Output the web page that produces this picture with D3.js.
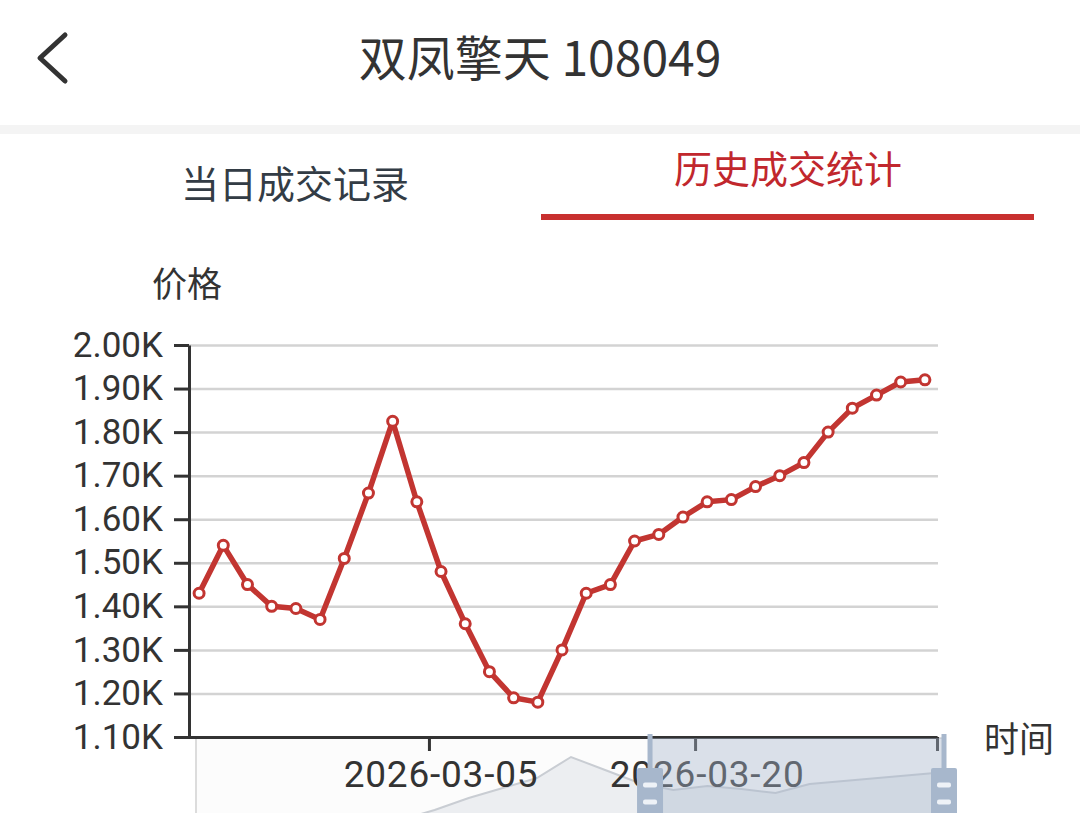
<!DOCTYPE html>
<html>
<head>
<meta charset="utf-8">
<script src="https://d3js.org/d3.v7.min.js"></script>
<style>
  html, body { margin: 0; padding: 0; background: #fff; }
  svg { display: block; font-family: "Noto Sans CJK SC", "Noto Sans", sans-serif; }
</style>
</head>
<body>
<svg id="svg" width="1080" height="813"></svg>
<script>
// 每个点的成交价
var prices = [1430, 1540, 1450, 1400, 1395, 1370, 1510, 1660, 1825, 1640, 1480,
              1360, 1250, 1190, 1180, 1300, 1430, 1450, 1550, 1565, 1605, 1640,
              1645, 1675, 1700, 1730, 1800, 1855, 1885, 1915, 1920];
var yTicks = [1100, 1200, 1300, 1400, 1500, 1600, 1700, 1800, 1900, 2000];
var xLabelIndex = [10, 21];
var xLabels = ['2026-03-05', '2026-03-20'];
// dataZoom 缩略图里的阴影曲线
var shadowPrices = [1100, 1118, 1145, 1190, 1244, 1298, 1370, 1460, 1568, 1658, 1748, 1937,
                    1820, 1703, 1640, 1676, 1649, 1613, 1694, 1721, 1748, 1775, 1802];
var zoomStart = 60.7, zoomEnd = 100;

var svg = d3.select("#svg");
var red = "#c23531";
var numFont = "Roboto, 'Noto Sans', sans-serif";

// header
svg.append("path")
    .attr("d", "M65,35 L40,58 L65,81")
    .attr("fill", "none").attr("stroke", "#333")
    .attr("stroke-width", 5).attr("stroke-linecap", "round").attr("stroke-linejoin", "round");
svg.append("text")
    .attr("x", 540).attr("y", 55)
    .attr("text-anchor", "middle").attr("dominant-baseline", "central")
    .attr("font-size", 48).attr("fill", "#333")
    .text("双凤擎天 108049");
svg.append("rect").attr("x", 0).attr("y", 125).attr("width", 1080).attr("height", 9).attr("fill", "#f4f4f4");

// tabs
svg.append("text")
    .attr("x", 295).attr("y", 181)
    .attr("text-anchor", "middle").attr("dominant-baseline", "central")
    .attr("font-size", 38).attr("fill", "#333c45")
    .text("当日成交记录");
svg.append("text")
    .attr("x", 788).attr("y", 166)
    .attr("text-anchor", "middle").attr("dominant-baseline", "central")
    .attr("font-size", 38).attr("fill", "#c1272d")
    .text("历史成交统计");
svg.append("rect").attr("x", 541).attr("y", 214).attr("width", 493).attr("height", 6).attr("fill", "#c8302f");

// scales
var plot = {left: 189, right: 938, top: 345, bottom: 737};
var xScale = d3.scaleBand()
    .domain(d3.range(prices.length))
    .range([plot.left - 2, plot.right - 1]);
var xEdge = d3.scaleLinear()
    .domain([0, prices.length])
    .range([plot.left - 2, plot.right - 1]);
var yScale = d3.scaleLinear()
    .domain([1100, 2000])
    .range([plot.bottom, plot.top]);
var bw = xScale.bandwidth();

// grid
var grid = svg.append("g")
    .attr("transform", "translate(" + plot.left + ",0)")
    .call(d3.axisLeft(yScale).tickValues(yTicks).tickSize(-(plot.right - plot.left)).tickFormat(""));
grid.select(".domain").remove();
grid.selectAll("line").attr("stroke", "#d3d3d3").attr("stroke-width", 2.5);

// slider shadow (behind labels)
var sx = d3.scaleLinear().domain([0, shadowPrices.length - 1]).range([196, 946]);
var sy = d3.scaleLinear().domain([1100, 2000]).range([850, 750]);
var slider = svg.append("g");
slider.append("rect").attr("x", 196).attr("y", 738).attr("width", 748).attr("height", 100)
    .attr("fill", "#fcfcfc").attr("stroke", "#dcdcdc").attr("stroke-width", 2);
slider.append("path").datum(shadowPrices)
    .attr("d", d3.area().x(function (d, i) { return sx(i); }).y0(850).y1(function (d) { return sy(d); }))
    .attr("fill", "#eceef1");
slider.append("path").datum(shadowPrices)
    .attr("d", d3.line().x(function (d, i) { return sx(i); }).y(function (d) { return sy(d); }))
    .attr("fill", "none").attr("stroke", "#c9cdd3").attr("stroke-width", 2);

// x axis
var xAxis = svg.append("g")
    .attr("transform", "translate(0," + plot.bottom + ")")
    .call(d3.axisBottom(xEdge).tickValues(xLabelIndex.concat([prices.length])).tickFormat("").tickSize(14).tickSizeOuter(0));
xAxis.select(".domain").attr("stroke", "#333").attr("stroke-width", 3);
xAxis.selectAll("line").attr("stroke", "#333").attr("stroke-width", 3);

var xLab = svg.append("g")
    .attr("transform", "translate(0," + plot.bottom + ")")
    .call(d3.axisBottom(xScale).tickValues(xLabelIndex)
        .tickFormat(function (d) { return xLabels[xLabelIndex.indexOf(d)]; })
        .tickSize(0).tickPadding(24));
xLab.select(".domain").remove();
xLab.selectAll("text").attr("font-size", 37).attr("fill", "#333")
    .attr("letter-spacing", 0.8)
    .attr("font-family", numFont);

// y axis
var yAxis = svg.append("g")
    .attr("transform", "translate(" + plot.left + ",0)")
    .call(d3.axisLeft(yScale).tickValues(yTicks).tickSize(15).tickSizeOuter(0).tickPadding(11)
        .tickFormat(function (d) { return (d / 1000).toFixed(2) + "K"; }));
yAxis.select(".domain").attr("stroke", "#333").attr("stroke-width", 3);
yAxis.selectAll("line").attr("stroke", "#333").attr("stroke-width", 3);
yAxis.selectAll("text").attr("font-size", 35).attr("fill", "#333")
    .attr("font-family", numFont);

// axis names
svg.append("text").attr("x", 187).attr("y", 281)
    .attr("text-anchor", "middle").attr("dominant-baseline", "central")
    .attr("font-size", 35).attr("fill", "#333").text("价格");
svg.append("text").attr("x", 984).attr("y", 736)
    .attr("dominant-baseline", "central")
    .attr("font-size", 35).attr("fill", "#333").text("时间");

// series
var line = d3.line()
    .x(function (d, i) { return xScale(i) + bw / 2; })
    .y(function (d) { return yScale(d); });
svg.append("path").datum(prices)
    .attr("d", line)
    .attr("fill", "none").attr("stroke", red).attr("stroke-width", 5.5)
    .attr("stroke-linejoin", "round");
svg.append("g").selectAll("circle").data(prices).enter()
    .append("circle")
    .attr("cx", function (d, i) { return xScale(i) + bw / 2; })
    .attr("cy", function (d) { return yScale(d); })
    .attr("r", 5)
    .attr("fill", "#fff").attr("stroke", red).attr("stroke-width", 3);

// dataZoom window + handles
var zx = d3.scaleLinear().domain([0, 100]).range([196, 944]);
var w0 = zx(zoomStart), w1 = zx(zoomEnd);
svg.append("rect").attr("x", w0).attr("y", 738).attr("width", w1 - w0).attr("height", 100)
    .attr("fill", "rgba(167,183,204,0.4)");
[w0, w1].forEach(function (hx) {
    var h = svg.append("g");
    h.append("rect").attr("x", hx - 2.5).attr("y", 734).attr("width", 5).attr("height", 100).attr("fill", "#a7b7cc");
    h.append("rect").attr("x", hx - 13).attr("y", 768).attr("width", 26).attr("height", 70).attr("rx", 2).attr("fill", "#a7b7cc");
    [785, 802].forEach(function (dy) {
        h.append("rect").attr("x", hx - 7).attr("y", dy - 2.5).attr("width", 14).attr("height", 5)
            .attr("rx", 2).attr("fill", "#eef2f7");
    });
});
</script>
</body>
</html>
